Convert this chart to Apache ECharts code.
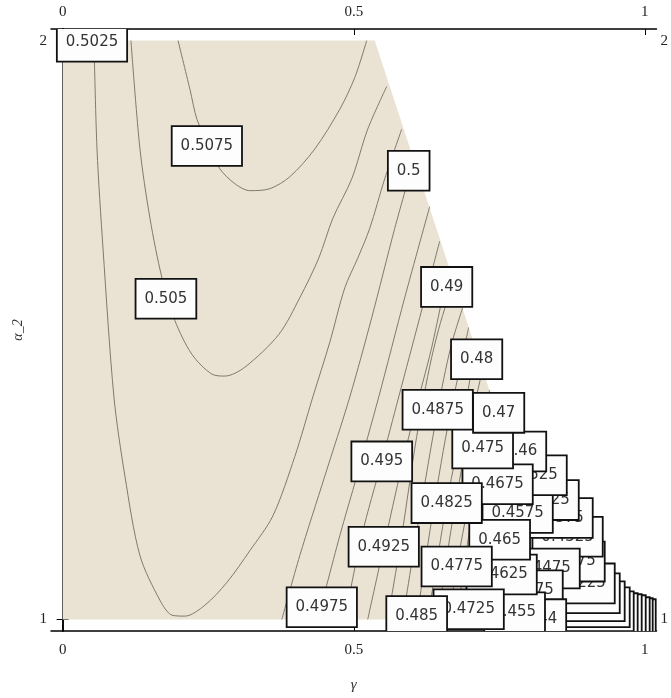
<!DOCTYPE html>
<html><head><meta charset="utf-8">
<script src="https://cdn.jsdelivr.net/npm/echarts@6/dist/echarts.min.js"></script>
<style>html,body{margin:0;padding:0;background:#fff}#chart{width:671px;height:698px}</style>
</head><body><div id="chart"></div>
<script>
// axis ticks
const xTickValues = [0, 0.5, 1];
const xTickLabels = ['0', '0.5', '1'];
const yTickValues = [1, 2];
const yTickLabels = ['1', '2'];

// shaded (defined) region outline
const regionX = [0, 0, 0.536, 0.733, 0.862];
const regionY = [1, 2, 2, 1.396, 1];

// contour lines [gamma, alpha_2]
const c5075 = [[0.1982,2.0],[0.2187,1.9155],[0.2307,1.8641],[0.2529,1.8127],[0.2700,1.7784],[0.2958,1.7527],[0.3215,1.7407],[0.3558,1.7441],[0.3902,1.7647],[0.4331,1.8127],[0.4760,1.8813],[0.5017,1.9361],[0.5223,2.0]];
const c505 = [[0.1173,2.0],[0.1328,1.8127],[0.1500,1.6928],[0.1706,1.5900],[0.1928,1.5163],[0.2220,1.4580],[0.2563,1.4238],[0.2786,1.4204],[0.3129,1.4357],[0.3713,1.4923],[0.4073,1.5557],[0.4399,1.6242],[0.4640,1.6928],[0.4966,1.7613],[0.5240,1.8470],[0.5566,1.9207]];
const c5025 = [[0.0538,2.0],[0.0590,1.8127],[0.0693,1.6414],[0.0881,1.3843],[0.1070,1.2473],[0.1328,1.1102],[0.1671,1.0331],[0.1877,1.0074],[0.2100,1.0057],[0.2443,1.0245],[0.2821,1.0639],[0.3215,1.1187],[0.3610,1.1787],[0.3988,1.2815],[0.4297,1.3843],[0.4588,1.4786],[0.4846,1.5728],[0.5069,1.6242],[0.5275,1.6756],[0.5532,1.7613],[0.5824,1.8470]];
const c5000 = [[0.3765,1.0],[0.4073,1.1102],[0.4502,1.2473],[0.4932,1.3843],[0.5309,1.5214],[0.5704,1.6756],[0.6013,1.7870]];
const c4975 = [[0.4382,1.0],[0.4760,1.1445],[0.5052,1.2473],[0.5429,1.3843],[0.5875,1.5557],[0.6305,1.7133]];
const c4950 = [[0.4846,1.0],[0.5137,1.1445],[0.5481,1.2730],[0.5772,1.3843],[0.6133,1.5214],[0.6476,1.6534]];
const c4925 = [[0.5240,1.0],[0.5515,1.1256],[0.5824,1.2644],[0.6030,1.3501],[0.6339,1.4700],[0.6631,1.6105]];
const c4900 = [[0.5584,1.0],[0.5824,1.1445],[0.6081,1.3158],[0.6339,1.4529],[0.6596,1.5471],[0.6751,1.5728]];
const c4875 = [[0.5841,1.0],[0.6099,1.1616],[0.6442,1.3621],[0.6665,1.4700],[0.6871,1.5386]];
const c4850 = [[0.6081,1.0],[0.6322,1.1616],[0.6613,1.3329],[0.6974,1.5043]];
const c4825 = [[0.6270,1.0],[0.6596,1.2010],[0.6819,1.3158],[0.7094,1.4700]];
const c4800 = [[0.6442,1.0],[0.6682,1.1616],[0.6957,1.3158],[0.7214,1.4323]];
const c4775 = [[0.6631,1.0],[0.6768,1.0913],[0.7060,1.2473],[0.7334,1.3963]];
const c4750 = [[0.6768,1.0],[0.6974,1.1445],[0.7214,1.2952],[0.7437,1.3672]];
const c4725 = [[0.6922,1.0],[0.6991,1.0416],[0.7334,1.2130],[0.7540,1.3329]];
const c4700 = [[0.7060,1.0],[0.7334,1.1616],[0.7660,1.2987]];
const c4675 = [[0.7180,1.0],[0.7471,1.1616],[0.7746,1.2730]];
const c4650 = [[0.7300,1.0],[0.7540,1.1359],[0.7849,1.2387]];
const c4625 = [[0.7403,1.0],[0.7643,1.0930],[0.7969,1.2027]];
const c4600 = [[0.7523,1.0],[0.7780,1.0845],[0.8072,1.1701]];
const c4575 = [[0.7626,1.0],[0.7883,1.0673],[0.8192,1.1359]];
const c4550 = [[0.7746,1.0],[0.7986,1.0502],[0.8295,1.1016]];
const c4525 = [[0.7849,1.0],[0.8106,1.0365],[0.8415,1.0673]];
const c4500 = [[0.7969,1.0],[0.8209,1.0211],[0.8518,1.0382]];
const contours = [c5075,c505,c5025,c5000,c4975,c4950,c4925,c4900,c4875,c4850,c4825,c4800,c4775,c4750,c4725,c4700,c4675,c4650,c4625,c4600,c4575,c4550,c4525,c4500];

// contour labels, in drawing order (later ones on top)
const labelText = ['0.3725','0.3775','0.3825','0.3875','0.3925','0.3975','0.4025','0.4075','0.4125','0.4175','0.4225','0.4275','0.4325','0.4375','0.4425',
  '0.4475','0.4375','0.44','0.455','0.4625','0.4575','0.4525','0.46','0.465','0.4675','0.4725','0.4775','0.4825','0.475','0.47','0.4875','0.485',
  '0.4925','0.495','0.4975','0.48','0.49','0.5','0.505','0.5075','0.5025'];
const labelX = [0.9583,0.9531,0.9479,0.9411,0.9342,0.9273,0.9205,0.9136,0.9050,0.8965,0.8879,0.8707,0.8673,0.8501,0.8261,
  0.8278,0.7986,0.8209,0.7763,0.7540,0.7815,0.8055,0.7866,0.7506,0.7471,0.6974,0.6768,0.6596,0.7214,0.7489,0.6442,0.6081,
  0.5515,0.5481,0.4451,0.7111,0.6596,0.5944,0.1774,0.2477,0.0504];
const labelY = [1.0005,1.0022,1.0039,1.0074,1.0091,1.0108,1.0142,1.0211,1.0314,1.0451,1.0622,1.0999,1.1427,1.1753,1.2061,
  1.0879,1.0502,1.0005,1.0125,1.0776,1.1839,1.2490,1.2901,1.1376,1.2335,1.0176,1.0913,1.2010,1.2952,1.3569,1.3621,1.0057,
  1.1256,1.2730,1.0211,1.4494,1.5745,1.7750,1.5540,1.8179,1.998];

const chart = echarts.init(document.getElementById('chart'), null, {renderer: 'canvas'});

function axisCommon(values, labels, margin) {
  return {
    axisLine: {show: true, lineStyle: {color: '#000', width: 1.5}},
    axisTick: {show: true, inside: true, length: 6, customValues: values, lineStyle: {color: '#000', width: 1}},
    axisLabel: {show: true, customValues: values, margin: margin, color: '#222', fontFamily: 'Liberation Serif', fontSize: 15,
      formatter: v => { const i = values.findIndex(t => Math.abs(t - v) < 1e-9); return i >= 0 ? labels[i] : ''; }},
    splitLine: {show: false}
  };
}

const series = [];
series.push({
  type: 'custom', z: 1, silent: true, clip: true,
  data: [[0, 1]],
  renderItem: function (params, api) {
    const pts = regionX.map((x, i) => api.coord([x, regionY[i]]));
    return {type: 'polygon', shape: {points: pts}, style: {fill: '#eae3d4', stroke: null}};
  }
});
contours.forEach(c => series.push({
  type: 'line', data: c, smooth: 0.3, symbol: 'none', z: 2, silent: true,
  lineStyle: {color: '#7f7a6e', width: 1}
}));
series.push({
  type: 'custom', z: 3, silent: true, clip: true,
  data: labelX.map((x, i) => [x, labelY[i]]),
  renderItem: function (params, api) {
    const p = api.coord([api.value(0), api.value(1)]);
    return {
      type: 'text', x: p[0], y: p[1],
      style: {
        text: labelText[params.dataIndex], align: 'center', verticalAlign: 'middle',
        font: '15px "DejaVu Sans"', fill: '#333', lineHeight: 18,
        backgroundColor: '#fdfdfd', borderColor: '#111', borderWidth: 1.8, padding: [10, 8, 10, 8]
      }
    };
  }
});

chart.setOption({
  animation: false,
  backgroundColor: '#fff',
  grid: {left: 51, right: 14, top: 29, bottom: 62, show: false},
  xAxis: [
    Object.assign({type: 'value', min: -0.02, max: 1.02, position: 'bottom', name: 'γ', nameLocation: 'middle', nameGap: 47,
      nameTextStyle: {fontFamily: 'Liberation Serif', fontStyle: 'italic', fontSize: 15, color: '#333'}}, axisCommon(xTickValues, xTickLabels, 12)),
    Object.assign({type: 'value', min: -0.02, max: 1.02, position: 'top'}, axisCommon(xTickValues, xTickLabels, 9))
  ],
  yAxis: [
    Object.assign({type: 'value', min: 0.98, max: 2.02, position: 'left', name: 'α_2', nameLocation: 'middle', nameGap: 26, nameRotate: 90,
      nameTextStyle: {fontFamily: 'Liberation Serif', fontStyle: 'italic', fontSize: 14, color: '#333'}}, axisCommon(yTickValues, yTickLabels, 4)),
    Object.assign({type: 'value', min: 0.98, max: 2.02, position: 'right'}, axisCommon(yTickValues, yTickLabels, 4))
  ],
  series: series
});
</script></body></html>
